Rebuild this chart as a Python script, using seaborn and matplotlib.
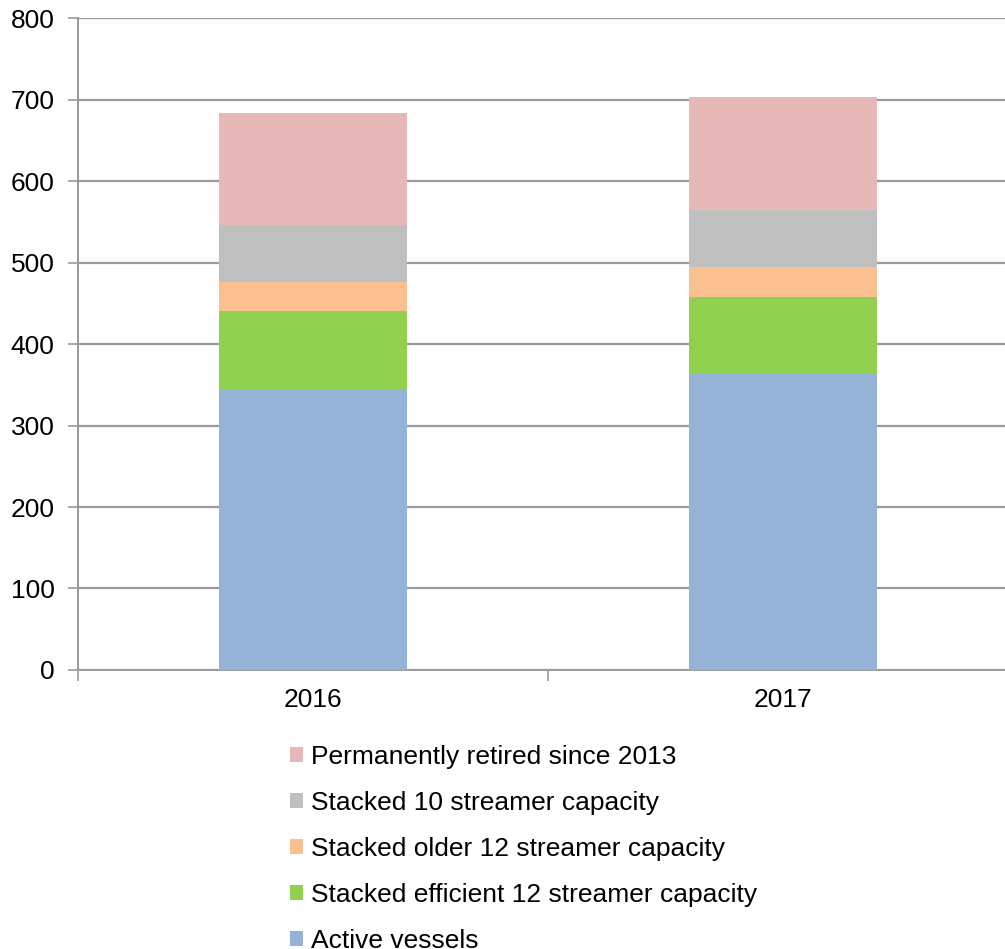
import matplotlib
matplotlib.use("Agg")
import matplotlib.pyplot as plt
import numpy as np
import pandas as pd
import seaborn as sns

# data
years = ['2016', '2017']
series = ['Active vessels',
          'Stacked efficient 12 streamer capacity',
          'Stacked older 12 streamer capacity',
          'Stacked 10 streamer capacity',
          'Permanently retired since 2013']
active = [344, 363]
efficient12 = [96, 95]
older12 = [36, 37]
stacked10 = [70, 70]
retired = [138, 138]
colors = ['#95B3D7', '#92D050', '#FAC090', '#BFBFBF', '#E6B9B8']

sns.set_theme(style='white')
plt.rcParams['font.family'] = ['Liberation Sans', 'DejaVu Sans']
plt.rcParams['text.color'] = 'black'

df = pd.DataFrame({'year': years, series[0]: active, series[1]: efficient12,
                   series[2]: older12, series[3]: stacked10, series[4]: retired})
cum = df[series].cumsum(axis=1)

fig = plt.figure(figsize=(10.05, 9.49), dpi=100)
ax = fig.add_axes([0.0776, 0.294, 0.935, 0.687])

# draw cumulative totals from top segment down so they stack
for name, col in reversed(list(zip(series, colors))):
    sns.barplot(x=df['year'], y=cum[name], color=col, width=0.4,
                saturation=1, ax=ax, label=name, zorder=3, linewidth=0)

ax.set_ylim(0, 800)
ax.set_xlim(-0.5, 1.5)
ax.set_yticks(np.arange(0, 801, 100))
ax.yaxis.grid(True, color='#9A9A9A', linewidth=1.6, zorder=0)
ax.set_axisbelow(True)
for s in ['top', 'right']:
    ax.spines[s].set_visible(False)
for s in ['left', 'bottom']:
    ax.spines[s].set_color('#9A9A9A')
    ax.spines[s].set_linewidth(1.4)
ax.set_xlabel('')
ax.set_ylabel('')
ax.tick_params(axis='y', which='major', length=7, width=1.2, color='#9A9A9A',
               labelsize=19, labelcolor='black', pad=10, left=True)
ax.tick_params(axis='x', which='major', length=0, labelsize=19,
               labelcolor='black', pad=13)
ax.set_xticks([-0.5, 0.5, 1.5], minor=True)
ax.tick_params(axis='x', which='minor', length=8, width=1.2, color='#9A9A9A',
               bottom=True)

if ax.get_legend():
    ax.get_legend().remove()
handles, labels = ax.get_legend_handles_labels()
fig.legend(handles, labels, loc='upper left', bbox_to_anchor=(0.278, 0.226),
           frameon=False, fontsize=19, handlelength=0.5, handleheight=0.5,
           handletextpad=0.3, labelspacing=0.83, borderaxespad=0,
           labelcolor='black')

fig.savefig('out.png', dpi=100)
